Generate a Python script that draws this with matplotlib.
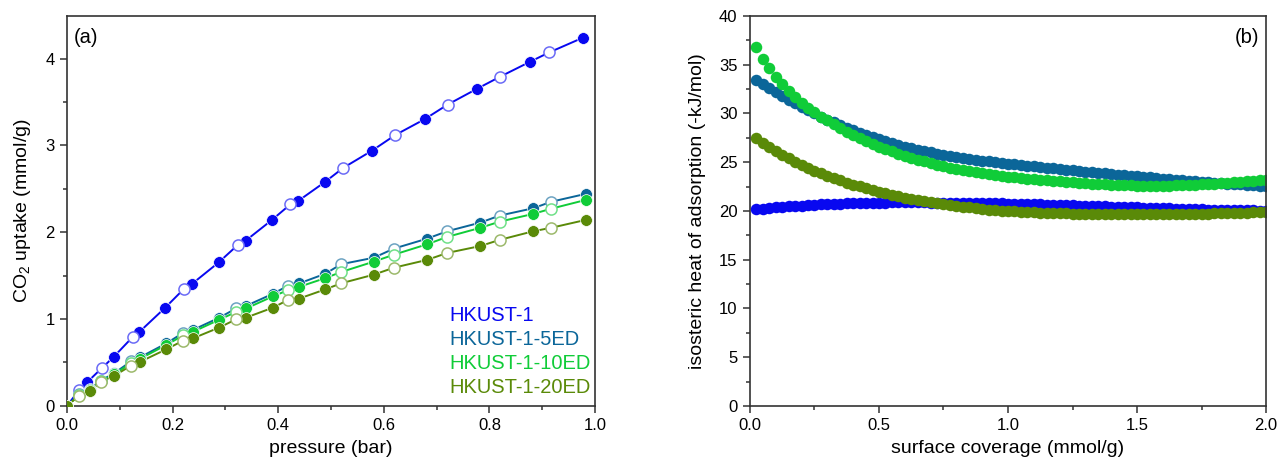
import matplotlib.pyplot as plt
import numpy as np
from matplotlib.colors import to_rgb

plt.rcParams['font.family'] = ['Liberation Sans', 'DejaVu Sans']
plt.rcParams['mathtext.default'] = 'regular'

names = ["HKUST-1", "HKUST-1-5ED", "HKUST-1-10ED", "HKUST-1-20ED"]
colors = ["#0808f0", "#0b6699", "#10cc38", "#5a8a08"]

# (a) CO2 isotherms, filled = adsorption, open = desorption
p_ads_hk = [0, 0.038, 0.088, 0.137, 0.186, 0.236, 0.287, 0.338, 0.388, 0.438,
            0.489, 0.578, 0.677, 0.776, 0.876, 0.977]
q_ads_hk = [0, 0.27, 0.56, 0.85, 1.13, 1.40, 1.65, 1.90, 2.14, 2.36,
            2.58, 2.94, 3.30, 3.65, 3.96, 4.24]
p_des_hk = [0.023, 0.067, 0.124, 0.222, 0.323, 0.423, 0.523, 0.622, 0.721, 0.820, 0.913]
q_des_hk = [0.18, 0.44, 0.79, 1.35, 1.85, 2.32, 2.74, 3.12, 3.47, 3.79, 4.07]

p_ads_ed = [0, 0.043, 0.089, 0.138, 0.188, 0.238, 0.288, 0.339, 0.39, 0.44,
            0.489, 0.581, 0.682, 0.783, 0.883, 0.982]
q_ads_5 = [0, 0.19, 0.373, 0.557, 0.718, 0.872, 1.013, 1.15, 1.29, 1.41,
           1.52, 1.705, 1.925, 2.11, 2.275, 2.44]
q_ads_10 = [0, 0.18, 0.36, 0.54, 0.70, 0.85, 0.99, 1.12, 1.26, 1.37,
            1.47, 1.66, 1.86, 2.05, 2.21, 2.37]
q_ads_20 = [0, 0.17, 0.345, 0.505, 0.65, 0.775, 0.90, 1.015, 1.13, 1.235,
            1.34, 1.51, 1.68, 1.84, 2.01, 2.14]

p_des_ed = [0.023, 0.064, 0.121, 0.22, 0.32, 0.418, 0.519, 0.619, 0.72, 0.819, 0.917]
q_des_5 = [0.13, 0.29, 0.51, 0.84, 1.12, 1.38, 1.63, 1.81, 2.01, 2.19, 2.35]
q_des_10 = [0.12, 0.28, 0.49, 0.81, 1.08, 1.33, 1.54, 1.74, 1.945, 2.12, 2.27]
q_des_20 = [0.115, 0.276, 0.46, 0.75, 0.995, 1.217, 1.41, 1.59, 1.76, 1.91, 2.05]

# (b) isosteric heat vs. surface coverage
coverage = [0.025, 0.05, 0.075, 0.1, 0.125, 0.15, 0.175, 0.2, 0.225, 0.25,
            0.275, 0.3, 0.325, 0.35, 0.375, 0.4, 0.425, 0.45, 0.475, 0.5,
            0.525, 0.55, 0.575, 0.6, 0.625, 0.65, 0.675, 0.7, 0.725, 0.75,
            0.775, 0.8, 0.825, 0.85, 0.875, 0.9, 0.925, 0.95, 0.975, 1.0,
            1.025, 1.05, 1.075, 1.1, 1.125, 1.15, 1.175, 1.2, 1.225, 1.25,
            1.275, 1.3, 1.325, 1.35, 1.375, 1.4, 1.425, 1.45, 1.475, 1.5,
            1.525, 1.55, 1.575, 1.6, 1.625, 1.65, 1.675, 1.7, 1.725, 1.75,
            1.775, 1.8, 1.825, 1.85, 1.875, 1.9, 1.925, 1.95, 1.975, 2.0]
qst_hk = [20.17, 20.24, 20.30, 20.36, 20.41, 20.46, 20.51, 20.56, 20.60, 20.64,
          20.67, 20.70, 20.73, 20.76, 20.78, 20.80, 20.82, 20.83, 20.84, 20.85,
          20.86, 20.87, 20.87, 20.87, 20.87, 20.87, 20.87, 20.86, 20.86, 20.85,
          20.85, 20.84, 20.83, 20.82, 20.81, 20.80, 20.79, 20.78, 20.77, 20.76,
          20.74, 20.73, 20.71, 20.69, 20.67, 20.65, 20.63, 20.61, 20.59, 20.57,
          20.55, 20.52, 20.50, 20.48, 20.46, 20.44, 20.42, 20.40, 20.38, 20.36,
          20.34, 20.32, 20.30, 20.28, 20.26, 20.24, 20.22, 20.20, 20.19, 20.17,
          20.15, 20.14, 20.12, 20.11, 20.09, 20.08, 20.07, 20.05, 20.04, 20.03]
qst_5 = [33.45, 33.05, 32.65, 32.22, 31.82, 31.43, 31.06, 30.69, 30.34, 30.00,
         29.68, 29.38, 29.09, 28.80, 28.53, 28.27, 28.04, 27.81, 27.58, 27.36,
         27.15, 26.95, 26.77, 26.59, 26.42, 26.28, 26.14, 26.01, 25.89, 25.77,
         25.66, 25.55, 25.45, 25.35, 25.26, 25.17, 25.08, 25.00, 24.93, 24.86,
         24.79, 24.72, 24.65, 24.58, 24.51, 24.44, 24.37, 24.30, 24.24, 24.17,
         24.11, 24.04, 23.98, 23.92, 23.85, 23.79, 23.73, 23.67, 23.61, 23.55,
         23.49, 23.44, 23.38, 23.33, 23.28, 23.22, 23.17, 23.12, 23.07, 23.01,
         22.96, 22.91, 22.86, 22.81, 22.76, 22.72, 22.67, 22.63, 22.59, 22.55]
qst_10 = [36.85, 35.62, 34.62, 33.78, 33.00, 32.27, 31.65, 31.10, 30.60, 30.15,
          29.68, 29.30, 28.92, 28.53, 28.15, 27.80, 27.48, 27.17, 26.88, 26.60,
          26.35, 26.11, 25.88, 25.67, 25.46, 25.27, 25.09, 24.91, 24.74, 24.58,
          24.44, 24.30, 24.17, 24.06, 23.96, 23.86, 23.77, 23.69, 23.61, 23.53,
          23.46, 23.39, 23.32, 23.26, 23.20, 23.14, 23.08, 23.03, 22.98, 22.93,
          22.89, 22.84, 22.80, 22.77, 22.73, 22.70, 22.67, 22.65, 22.63, 22.61,
          22.60, 22.59, 22.59, 22.59, 22.60, 22.62, 22.64, 22.67, 22.70, 22.73,
          22.77, 22.81, 22.85, 22.90, 22.95, 23.00, 23.05, 23.10, 23.16, 23.22]
qst_20 = [27.47, 27.00, 26.56, 26.15, 25.76, 25.39, 25.05, 24.72, 24.41, 24.13,
          23.87, 23.63, 23.40, 23.16, 22.92, 22.71, 22.52, 22.34, 22.16, 21.99,
          21.83, 21.67, 21.52, 21.38, 21.25, 21.13, 21.01, 20.90, 20.80, 20.71,
          20.62, 20.53, 20.44, 20.36, 20.28, 20.20, 20.13, 20.07, 20.02, 19.98,
          19.95, 19.92, 19.89, 19.86, 19.84, 19.82, 19.80, 19.78, 19.76, 19.74,
          19.72, 19.71, 19.69, 19.68, 19.67, 19.66, 19.65, 19.65, 19.64, 19.64,
          19.64, 19.64, 19.65, 19.65, 19.66, 19.67, 19.68, 19.69, 19.70, 19.72,
          19.73, 19.75, 19.76, 19.78, 19.80, 19.82, 19.84, 19.86, 19.88, 19.90]

ads = [(p_ads_hk, q_ads_hk), (p_ads_ed, q_ads_5), (p_ads_ed, q_ads_10), (p_ads_ed, q_ads_20)]
des = [(p_des_hk, q_des_hk), (p_des_ed, q_des_5), (p_des_ed, q_des_10), (p_des_ed, q_des_20)]
qst = [qst_hk, qst_5, qst_10, qst_20]


def lighten(c, f=0.4):
    r = np.array(to_rgb(c))
    return tuple(r + (1 - r) * f)


def style_axes(ax):
    for s in ax.spines.values():
        s.set_linewidth(1.2)
        s.set_color("#333333")
    ax.tick_params(which="both", direction="out", top=False, right=False,
                   width=1.1, labelsize=12, color="#333333", pad=4)
    ax.tick_params(which="major", length=5)
    ax.tick_params(which="minor", length=3)


fig = plt.figure(figsize=(12.77, 4.66), dpi=100)

# (a)
ax1 = fig.add_axes([0.0525, 0.1294, 0.4135, 0.8363])
for (pa, qa), (pd, qd), c in zip(ads, des, colors):
    p_all = np.concatenate([pa, pd])
    q_all = np.concatenate([qa, qd])
    order = np.argsort(p_all)
    ax1.plot(p_all[order], q_all[order], "-", color=c, lw=1.4, zorder=2)
    ax1.plot(pa, qa, "o", ms=8.5, color=c, mec="white", mew=0.5, zorder=3)
    ax1.plot(pd, qd, "o", ms=8, mfc="white", mec=lighten(c), mew=1.1, zorder=3)

ax1.set_xlim(0, 1.0)
ax1.set_ylim(0, 4.49)
ax1.set_xticks(np.arange(0, 1.01, 0.2))
ax1.set_xticks(np.arange(0.1, 1.0, 0.2), minor=True)
ax1.set_yticks(range(0, 5))
ax1.set_yticks(np.arange(0.5, 4.5, 1.0), minor=True)
ax1.set_xticklabels([f"{v:.1f}" for v in np.arange(0, 1.01, 0.2)])
style_axes(ax1)
ax1.set_xlabel("pressure (bar)", fontsize=14, labelpad=5)
ax1.set_ylabel("CO$_2$ uptake (mmol/g)", fontsize=14, labelpad=9)
ax1.text(0.012, 0.968, "(a)", transform=ax1.transAxes, fontsize=14.5, va="top", ha="left")

for i, (name, c) in enumerate(zip(names, colors)):
    ax1.text(0.725, 0.232 - i * 0.0615, name, transform=ax1.transAxes,
             color=c, fontsize=14.5, va="center", ha="left")

# (b)
ax2 = fig.add_axes([0.5873, 0.1288, 0.4041, 0.8369])
for q, c in zip(qst, colors):
    ax2.plot(coverage, q, "o", ms=8.3, color=c, mew=0, zorder=2)

ax2.set_xlim(0, 2.0)
ax2.set_ylim(0, 40)
ax2.set_xticks(np.arange(0, 2.01, 0.5))
ax2.set_xticks(np.arange(0.25, 2.0, 0.5), minor=True)
ax2.set_yticks(range(0, 41, 5))
ax2.set_yticks(np.arange(2.5, 40, 5), minor=True)
ax2.set_xticklabels([f"{v:.1f}" for v in np.arange(0, 2.01, 0.5)])
style_axes(ax2)
ax2.set_xlabel("surface coverage (mmol/g)", fontsize=14, labelpad=5)
ax2.set_ylabel("isosteric heat of adsorption (-kJ/mol)", fontsize=14, labelpad=9)
ax2.text(0.986, 0.968, "(b)", transform=ax2.transAxes, fontsize=14.5, va="top", ha="right")

fig.savefig("out.png", dpi=100)
